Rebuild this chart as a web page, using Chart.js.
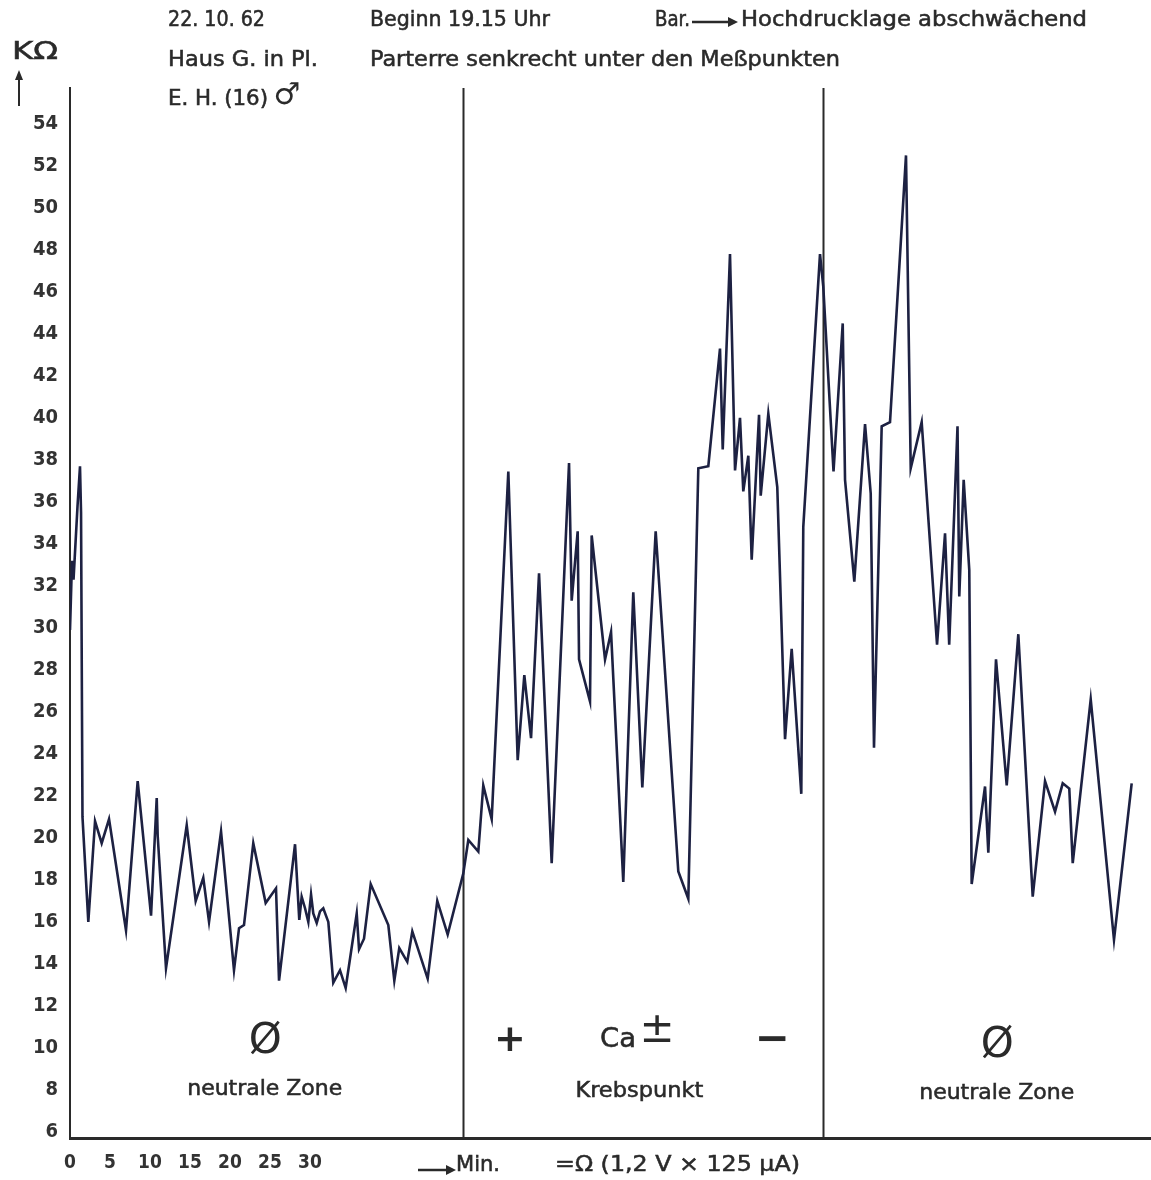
<!DOCTYPE html>
<html><head><meta charset="utf-8">
<script src="https://cdn.jsdelivr.net/npm/chart.js@4.4.0/dist/chart.umd.min.js"></script>
<style>html,body{margin:0;padding:0;background:#fff;} #wrap{width:1151px;height:1180px;position:relative;}</style>
</head><body><div id="wrap"><canvas id="c" width="1151" height="1180"></canvas></div>
<script>
// time in minutes
const minutes = [0,0.25,0.44,0.94,1.25,1.38,1.56,2.29,3.13,3.96,4.88,7.0,8.46,10.13,10.84,10.96,12.0,14.59,15.71,16.66,17.38,18.88,20.5,21.13,21.75,22.91,24.46,25.75,26.13,28.13,28.66,28.96,29.38,29.79,30.13,30.41,30.84,31.25,31.66,32.29,32.91,33.75,34.46,35.84,36.13,36.75,37.59,39.79,40.54,41.16,42.16,42.79,44.71,45.91,47.21,49.16,49.79,51.04,51.66,52.71,54.79,55.96,56.79,57.63,58.63,60.21,62.38,62.71,63.46,63.63,65.0,65.21,66.88,67.63,69.16,70.41,71.54,73.21,76.04,77.29,78.54,79.79,81.25,81.59,82.5,83.13,83.75,84.16,84.79,85.21,86.13,86.34,87.29,88.41,89.38,90.21,91.41,91.66,93.75,94.16,95.44,96.59,96.88,98.04,99.38,100.09,100.5,101.46,102.5,104.5,105.09,106.46,108.38,109.38,109.9,110.94,111.16,111.71,112.41,112.71,114.38,114.79,115.75,117.09,118.54,120.34,121.88,123.13,124.09,124.91,125.34,127.59,130.5,132.71];
// resistance in kOhm
const kOhm = [29.9,33.2,32.3,35.8,37.7,35.5,21.0,16.0,20.8,19.75,20.9,15.6,22.7,16.3,21.9,20.1,13.8,20.6,17.0,18.1,16.0,20.3,13.7,15.7,15.85,19.75,16.9,17.6,13.2,19.7,16.1,17.2,16.65,16.0,17.3,16.4,15.95,16.5,16.65,16.0,13.1,13.7,12.85,16.4,14.7,15.2,17.8,15.85,13.2,14.75,14.1,15.55,13.3,17.0,15.4,18.3,19.9,19.35,22.5,20.9,37.45,23.7,27.75,24.75,32.6,18.8,37.85,31.3,34.6,28.5,26.5,34.4,28.5,29.8,17.9,31.7,22.4,34.6,18.4,17.1,37.6,37.7,43.3,38.5,47.8,37.5,40.0,36.5,38.2,33.25,40.15,36.3,40.2,36.7,24.7,29.0,22.1,34.8,47.8,46.25,37.45,44.5,37.05,32.2,39.7,36.4,24.3,39.6,39.8,52.5,37.6,39.8,29.2,34.5,29.2,39.6,31.5,37.05,32.75,17.8,22.45,19.3,28.5,22.5,29.7,17.2,22.7,21.25,22.6,22.35,18.8,26.6,15.15,22.6];
const yTickValues = [6,8,10,12,14,16,18,20,22,24,26,28,30,32,34,36,38,40,42,44,46,48,50,52,54];
const xTickValues = [0,5,10,15,20,25,30];
const zoneBounds = [49.13, 94.13];
const zoneSymbols = [
  {sym:'Ø', label:'neutrale Zone', x:24.4},
  {sym:'', label:'Krebspunkt', x:71.3},
  {sym:'Ø', label:'neutrale Zone', x:115.9}
];

const INK = '#2a2a2a';
const LINE = '#1d2142';
const FAM = '"DejaVu Sans Condensed", "DejaVu Sans"';

function fitText(ctx, str, x, y, size, w, opts) {
  opts = opts || {};
  ctx.save();
  ctx.font = (opts.weight || 'normal') + ' ' + size + 'px ' + (opts.family || FAM);
  ctx.textBaseline = 'middle';
  ctx.textAlign = 'left';
  const m = ctx.measureText(str).width;
  const sx = w ? w / m : 1;
  ctx.translate(x, y);
  ctx.scale(sx, 1);
  ctx.fillStyle = opts.color || INK;
  ctx.fillText(str, 0, 0);
  ctx.strokeStyle = opts.color || INK;
  ctx.lineWidth = opts.stroke == null ? 0.5 : opts.stroke;
  if (ctx.lineWidth > 0) ctx.strokeText(str, 0, 0);
  ctx.restore();
}
function centerText(ctx, str, cx, y, size, opts) {
  opts = opts || {};
  ctx.save();
  ctx.font = (opts.weight || 'normal') + ' ' + size + 'px ' + (opts.family || '"DejaVu Sans"');
  ctx.textBaseline = 'middle';
  ctx.textAlign = 'center';
  ctx.fillStyle = opts.color || INK;
  ctx.fillText(str, cx, y);
  ctx.restore();
}
function arrowRight(ctx, x1, x2, y) {
  ctx.save();
  ctx.strokeStyle = INK; ctx.fillStyle = INK; ctx.lineWidth = 2.5;
  ctx.beginPath(); ctx.moveTo(x1, y); ctx.lineTo(x2 - 8, y); ctx.stroke();
  ctx.beginPath(); ctx.moveTo(x2, y); ctx.lineTo(x2 - 10, y - 5); ctx.lineTo(x2 - 10, y + 5); ctx.closePath(); ctx.fill();
  ctx.restore();
}

const annot = {
  id: 'annot',
  beforeDatasetsDraw(chart) {
    const ctx = chart.ctx, a = chart.chartArea, xs = chart.scales.x;
    ctx.save();
    ctx.strokeStyle = INK; ctx.lineWidth = 2;
    zoneBounds.forEach(v => {
      const px = Math.round(xs.getPixelForValue(v)) + 0.5;
      ctx.beginPath(); ctx.moveTo(px, a.top); ctx.lineTo(px, a.bottom); ctx.stroke();
    });
    ctx.restore();
  },
  afterDraw(chart) {
    const ctx = chart.ctx, xs = chart.scales.x;
    // header
    fitText(ctx, '22. 10. 62', 168, 20, 22, 97);
    fitText(ctx, 'Beginn 19.15 Uhr', 370, 20, 22, 180);
    fitText(ctx, 'Bar.', 655, 20, 22, 35);
    arrowRight(ctx, 692, 738, 22);
    fitText(ctx, 'Hochdrucklage abschwächend', 741, 20, 22, 346);
    fitText(ctx, 'KΩ', 12, 52, 25, 46);
    fitText(ctx, 'Haus G. in Pl.', 168, 60, 22, 150);
    fitText(ctx, 'Parterre senkrecht unter den Meßpunkten', 370, 60, 22, 470);
    fitText(ctx, 'E. H. (16)', 168, 99, 22, 100);
    centerText(ctx, '♂', 287, 96, 30);
    // up arrow under KΩ
    ctx.save();
    ctx.strokeStyle = INK; ctx.fillStyle = INK; ctx.lineWidth = 2;
    ctx.beginPath(); ctx.moveTo(19, 106); ctx.lineTo(19, 78); ctx.stroke();
    ctx.beginPath(); ctx.moveTo(19, 70); ctx.lineTo(15, 80); ctx.lineTo(23, 80); ctx.closePath(); ctx.fill();
    ctx.restore();
    // bottom unit labels
    arrowRight(ctx, 418, 456, 1170);
    fitText(ctx, 'Min.', 456, 1165, 22, 44);
    fitText(ctx, '=Ω (1,2 V × 125 μA)', 555, 1165, 22, 245);
    // zone annotations
    const z0 = xs.getPixelForValue(zoneSymbols[0].x);
    const z1 = xs.getPixelForValue(zoneSymbols[1].x);
    const z2 = xs.getPixelForValue(zoneSymbols[2].x);
    centerText(ctx, 'Ø', z0, 1042, 42);
    fitText(ctx, zoneSymbols[0].label, z0 - 78, 1089, 22, 155);
    centerText(ctx, 'Ø', z2, 1046, 42);
    fitText(ctx, zoneSymbols[2].label, z2 - 78, 1093, 22, 155);
    fitText(ctx, zoneSymbols[1].label, z1 - 65, 1091, 22, 128);
    centerText(ctx, '+', 510, 1041, 38, {weight: 'bold'});
    fitText(ctx, 'Ca', 600, 1040, 27, 36);
    centerText(ctx, '±', 657, 1031, 42);
    centerText(ctx, '−', 772, 1041, 42, {weight: 'bold'});
  }
};

new Chart(document.getElementById('c'), {
  type: 'line',
  data: {
    datasets: [{
      data: minutes.map((m, i) => ({x: m, y: kOhm[i]})),
      borderColor: LINE,
      borderWidth: 2.6,
      pointRadius: 0,
      tension: 0,
      fill: false
    }]
  },
  options: {
    responsive: false,
    animation: false,
    events: [],
    layout: {padding: {top: 88, left: 0, right: 0, bottom: 0}},
    plugins: {legend: {display: false}, tooltip: {enabled: false}, title: {display: false}},
    scales: {
      x: {
        type: 'linear', min: 0, max: 135.125,
        grid: {display: false, drawTicks: false},
        border: {display: true, color: INK, width: 3},
        afterBuildTicks: s => { s.ticks = xTickValues.map(v => ({value: v})); },
        afterFit: s => { s.height = 42; },
        ticks: {color: '#333', font: {family: FAM, size: 19, weight: 'bold'}, padding: 14, maxRotation: 0, autoSkip: false}
      },
      y: {
        type: 'linear', min: 5.71, max: 55.71,
        grid: {display: false, drawTicks: false},
        border: {display: true, color: INK, width: 2},
        afterBuildTicks: s => { s.ticks = yTickValues.map(v => ({value: v})); },
        afterFit: s => { s.width = 70; },
        ticks: {color: '#333', font: {family: FAM, size: 20, weight: 'bold'}, padding: 12, autoSkip: false}
      }
    }
  },
  plugins: [annot]
});
</script>
</body></html>
